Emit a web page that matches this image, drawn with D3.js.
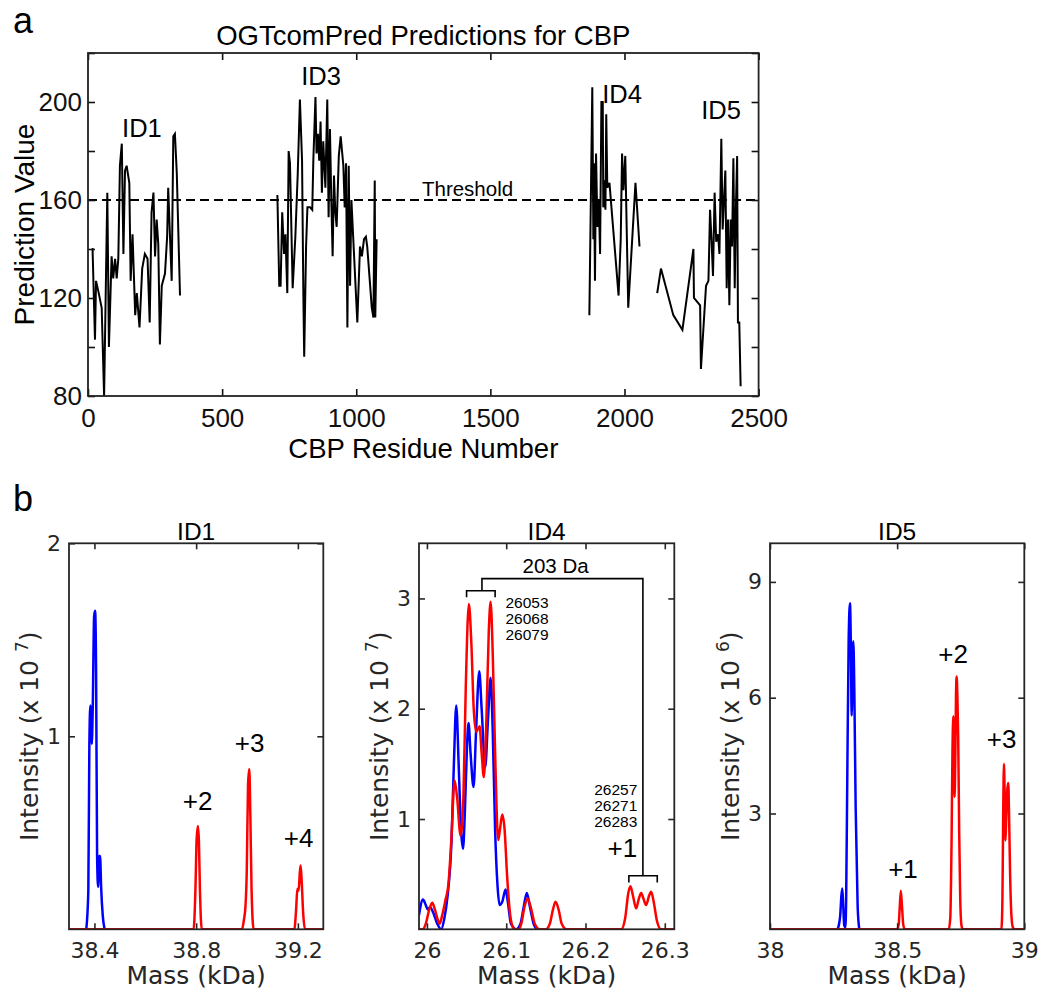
<!DOCTYPE html>
<html>
<head>
<meta charset="utf-8">
<script src="https://cdn.jsdelivr.net/npm/d3@7/dist/d3.min.js"></script>
<style>
  body { margin: 0; background: #fff; }
  svg { display: block; }
</style>
</head>
<body>
<div id="chart"></div>
<script>
// ---------- panel a : OGTcomPred prediction value per residue ----------
let id1Pred = [[14,140],[17,140],[26,103],[30,127],[40,122],[51,116],[60,80],[72,163],[78,100],[88,137],
  [94,128],[101,136],[107,128],[113,136],[119,174],[126,183],[132,138],[138,172],[144,174],[154,167],
  [159,127],[166,146],[176,113],[182,122],[192,108],[202,132],[212,138],[222,136],[230,110],[237,155],
  [244,163],[250,137],[256,152],[262,142],[268,101],[275,125],[287,130],[295,145],[299,165],[306,144],
  [312,127],[318,186],[324,187],[331,171],[343,121]];
let id3Pred = [[706,162],[713,125],[718,125],[724,155],[731,138],[736,146],[743,122],[748,180],[753,175],
  [763,124],[773,145],[782,171],[790,201],[798,176],[803,120],[806,96],[813,141],[818,157],[828,157],
  [836,156],[840,176],[848,202],[852,179],[857,187],[862,176],[867,192],[872,163],[877,184],[885,165],
  [892,201],[897,153],[902,189],[907,160],[912,137],[917,170],[922,155],[927,149],[935,178],[942,186],
  [947,180],[952,174],[957,157],[962,175],[967,108],[972,174],[977,125],[982,160],[989,144],[1004,110],
  [1014,141],[1021,137],[1029,144],[1036,145],[1041,141],[1058,116],[1064,112],[1069,168],[1071,112],
  [1076,144]];
let id4Pred = [[1869,113],[1874,155],[1880,206],[1884,144],[1886,175],[1890,127],[1894,179],[1899,149],
  [1904,160],[1909,138],[1914,200],[1919,200],[1921,157],[1925,168],[1929,156],[1932,195],[1936,165],
  [1944,167],[1978,121],[1986,144],[1991,179],[1996,164],[2003,178],[2014,116],[2041,167],[2056,141]];
let id5Pred = [[2122,122],[2136,132],[2182,113],[2216,107],[2257,140],[2259,120],[2282,117],[2285,91],
  [2304,125],[2313,127],[2319,156],[2324,145],[2330,129],[2336,163],[2342,143],[2349,146],[2354,138],
  [2361,185],[2366,148],[2371,160],[2376,172],[2381,124],[2386,152],[2391,117],[2396,152],[2401,141],
  [2406,177],[2411,124],[2416,160],[2420,178],[2423,110],[2428,110],[2433,84]];
let threshold = 160;
let topXTicks = [0, 500, 1000, 1500, 2000, 2500];
let topYTicks = [80, 100, 120, 140, 160, 180, 200, 220];
let topYLabels = [80, 120, 160, 200];
let regionNames = ["ID1", "ID3", "ID4", "ID5"];

// ---------- panel b : deconvoluted spectra (mass kDa, intensity) ----------
let id1Blue = [[38.368,0],[38.376,0.2],[38.380,0.95],[38.384,1.16],[38.3875,1.1],[38.3895,0.96],[38.3934,1.15],
  [38.3987,1.62],[38.4026,1.65],[38.4066,1.33],[38.4105,0.38],[38.4145,0.22],[38.4184,0.38],[38.4223,0.38],
  [38.4263,0.22],[38.4328,0.07],[38.440,0]];
let id1Red = [[38.30,0],[38.790,0],[38.797,0.2],[38.802,0.47],[38.807,0.535],[38.811,0.45],[38.815,0.2],
  [38.822,0],[38.980,0],[38.988,0.05],[38.994,0.12],[38.999,0.3],[39.004,0.75],[39.009,0.83],[39.013,0.6],
  [39.018,0.2],[39.026,0],[39.186,0],[39.193,0.1],[39.198,0.21],[39.203,0.2],[39.208,0.3],[39.211,0.33],
  [39.215,0.25],[39.221,0.08],[39.228,0],[39.30,0]];
let id4Blue = [[25.99,0.13],[25.995,0.27],[25.9985,0.22],[26.001,0.18],[26.004,0.2],[26.008,0.15],[26.013,0.05],
  [26.018,0],[26.022,0.1],[26.026,0.3],[26.031,0.8],[26.034,1.5],[26.037,2.03],[26.040,1.5],[26.043,0.9],
  [26.0455,0.73],[26.048,1.1],[26.0505,1.65],[26.0525,1.87],[26.055,1.6],[26.0588,1.29],[26.062,1.8],
  [26.066,2.34],[26.069,2.0],[26.0735,1.47],[26.077,1.9],[26.0803,2.28],[26.083,1.8],[26.086,0.9],
  [26.089,0.4],[26.0916,0.22],[26.095,0.25],[26.0992,0.36],[26.102,0.25],[26.106,0.05],[26.1126,0],
  [26.118,0.05],[26.122,0.2],[26.126,0.33],[26.13,0.2],[26.135,0.04],[26.139,0]];
let id4Red = [[25.99,0],[25.995,0],[25.9985,0.05],[26.003,0.18],[26.0067,0.24],[26.01,0.18],[26.014,0.08],
  [26.016,0.05],[26.019,0.12],[26.0235,0.27],[26.027,0.4],[26.0307,0.8],[26.0349,1.35],[26.038,1.2],
  [26.0424,0.85],[26.046,1.2],[26.049,2.2],[26.0529,2.95],[26.056,2.6],[26.059,2.0],[26.0622,1.79],
  [26.0664,1.84],[26.069,1.6],[26.0718,1.38],[26.075,1.9],[26.078,2.7],[26.0803,2.97],[26.083,2.5],
  [26.086,1.6],[26.0899,0.81],[26.092,0.9],[26.095,1.04],[26.098,0.9],[26.101,0.5],[26.104,0.2],
  [26.1084,0.02],[26.112,0],[26.116,0],[26.119,0.05],[26.123,0.2],[26.127,0.28],[26.131,0.2],[26.136,0.05],
  [26.142,0],[26.15,0],[26.155,0.05],[26.159,0.18],[26.1622,0.25],[26.166,0.18],[26.17,0.05],[26.176,0],
  [26.245,0],[26.25,0.1],[26.254,0.33],[26.2567,0.39],[26.26,0.3],[26.2639,0.19],[26.267,0.27],
  [26.2702,0.33],[26.273,0.28],[26.2765,0.22],[26.28,0.3],[26.2828,0.34],[26.286,0.25],[26.29,0.08],
  [26.2954,0],[26.312,0]];
let id5Blue = [[38.266,0],[38.276,0.35],[38.2805,0.85],[38.2843,1.06],[38.288,0.6],[38.292,0.1],[38.2965,0.05],
  [38.2995,0.8],[38.304,4.0],[38.3093,7.48],[38.3145,8.45],[38.3185,7.05],[38.3211,5.54],[38.325,7.22],
  [38.3277,7.46],[38.3316,6.19],[38.3368,3.17],[38.3447,0.59],[38.3512,0]];
let id5Red = [[38.0,0],[38.500,0],[38.506,0.12],[38.510,0.55],[38.5145,1.0],[38.519,0.6],[38.524,0.12],
  [38.530,0],[38.703,0],[38.709,0.3],[38.714,2.3],[38.7175,4.6],[38.721,5.52],[38.7235,4.2],[38.726,3.43],
  [38.729,4.6],[38.7315,6.1],[38.734,6.55],[38.737,6.0],[38.740,5.0],[38.744,2.5],[38.748,0.8],[38.753,0.1],
  [38.758,0],[38.910,0],[38.914,0.8],[38.917,3.0],[38.920,4.28],[38.923,3.4],[38.926,2.3],[38.929,2.9],
  [38.933,3.6],[38.937,3.79],[38.940,3.0],[38.944,1.5],[38.949,0.4],[38.955,0.05],[38.962,0],[39.0,0]];

let id1XTicks = [38.4, 38.8, 39.2], id1YTicks = [1, 2];
let id4XTicks = [26, 26.1, 26.2, 26.3], id4YTicks = [1, 2, 3];
let id5XTicks = [38, 38.5, 39], id5YTicks = [3, 6, 9];
let id1Tags = ["+2", "+3", "+4"];
let id4Tags = ["+1"];
let id5Tags = ["+1", "+2", "+3"];
let id4MassesA = ["26053", "26068", "26079"];
let id4MassesB = ["26257", "26271", "26283"];
let shiftText = "203 Da";

// ---------- drawing ----------
const ARIAL = "'Liberation Sans', Arial, Helvetica, sans-serif";
const DEJAVU = "'DejaVu Sans', Verdana, sans-serif";
const AXIS = "#262626";

let svg = d3.select("#chart")
  .append("svg")
  .attr("width", 1042)
  .attr("height", 999)
  .style("background", "#fff");

function txt(parent, x, y, s, size, opts) {
  opts = opts || {};
  return parent.append("text")
    .attr("x", x).attr("y", y)
    .attr("text-anchor", opts.anchor || "middle")
    .attr("fill", opts.fill || "#000")
    .style("font-family", opts.family || ARIAL)
    .style("font-size", size + "px")
    .text(s);
}

function styleAxis(g, family, size, color) {
  g.select(".domain").remove();
  g.attr("font-family", family).attr("font-size", size).attr("color", color);
  g.selectAll(".tick line").attr("stroke-width", 1.6);
}

// panel letters
txt(svg, 13, 33, "a", 36, {anchor: "start"});
txt(svg, 13, 511, "b", 36, {anchor: "start"});

// ----- top panel
let dimA = {left: 88, right: 758.6, top: 53, bottom: 396};
let x = d3.scaleLinear().domain([0, 2500]).range([dimA.left, dimA.right]);
let y = d3.scaleLinear().domain([80, 220]).range([dimA.bottom, dimA.top]);
let gA = svg.append("g");

gA.append("line")
  .attr("x1", x(0)).attr("x2", x(2500))
  .attr("y1", y(threshold)).attr("y2", y(threshold))
  .attr("stroke", "#000").attr("stroke-width", 2)
  .attr("stroke-dasharray", "9,5");

let predLine = d3.line().x(d => x(d[0])).y(d => y(d[1]));
[id1Pred, id3Pred, id4Pred, id5Pred].forEach(seg => {
  gA.append("path")
    .attr("d", predLine(seg))
    .attr("fill", "none")
    .attr("stroke", "#000")
    .attr("stroke-width", 2);
});

// axes, ticks pointing inward on all four sides
let axB = gA.append("g").attr("transform", "translate(0," + dimA.bottom + ")")
  .call(d3.axisBottom(x).tickValues(topXTicks).tickSize(-7).tickPadding(13).tickFormat(d3.format("d")));
let axT = gA.append("g").attr("transform", "translate(0," + dimA.top + ")")
  .call(d3.axisTop(x).tickValues(topXTicks).tickSize(-7).tickFormat(""));
let axL = gA.append("g").attr("transform", "translate(" + dimA.left + ",0)")
  .call(d3.axisLeft(y).tickValues(topYTicks).tickSize(-7).tickPadding(6)
    .tickFormat(d => topYLabels.includes(d) ? d : ""));
let axR = gA.append("g").attr("transform", "translate(" + dimA.right + ",0)")
  .call(d3.axisRight(y).tickValues(topYTicks).tickSize(-7).tickFormat(""));
[axB, axT, axL, axR].forEach(g => styleAxis(g, ARIAL, 26, "#111"));

gA.append("rect")
  .attr("x", dimA.left).attr("y", dimA.top)
  .attr("width", dimA.right - dimA.left).attr("height", dimA.bottom - dimA.top)
  .attr("fill", "none").attr("stroke", "#222").attr("stroke-width", 1.8);

txt(gA, (dimA.left + dimA.right) / 2, 45, "OGTcomPred Predictions for CBP", 27.5);
txt(gA, (dimA.left + dimA.right) / 2, 458, "CBP Residue Number", 27.5);
txt(gA, 0, 0, "Prediction Value", 28)
  .attr("transform", "translate(34," + (dimA.top + dimA.bottom) / 2 + ") rotate(-90)");

// region names, placed in data units
let regionAt = [[201, 185.8], [869, 206.9], [1991, 199.5], [2360, 192.9]];
regionNames.forEach((n, i) => txt(gA, x(regionAt[i][0]), y(regionAt[i][1]), n, 25.5));
txt(gA, x(1415), y(threshold) - 4.5, "Threshold", 20.5);

// ----- bottom panels
let dimB = {top: 543.3, bottom: 929.3};

function spectrumPanel(p) {
  let g = svg.append("g");
  let sx = d3.scaleLinear().domain(p.xDomain).range([p.left, p.right]);
  let sy = d3.scaleLinear().domain(p.yDomain).range([dimB.bottom, dimB.top]);
  let clipId = "clip" + p.title;
  svg.append("clipPath").attr("id", clipId).append("rect")
    .attr("x", p.left).attr("y", dimB.top)
    .attr("width", p.right - p.left).attr("height", dimB.bottom - dimB.top);

  let ln = d3.line().curve(d3.curveMonotoneX).x(d => sx(d[0])).y(d => sy(d[1]));
  g.append("path").attr("d", ln(p.blue)).attr("clip-path", "url(#" + clipId + ")")
    .attr("fill", "none").attr("stroke", "#0000ff").attr("stroke-width", 2.5);
  g.append("path").attr("d", ln(p.red)).attr("clip-path", "url(#" + clipId + ")")
    .attr("fill", "none").attr("stroke", "#ff0000").attr("stroke-width", 2.5);

  let b = g.append("g").attr("transform", "translate(0," + dimB.bottom + ")")
    .call(d3.axisBottom(sx).tickValues(p.xTicks).tickSize(-6).tickPadding(13).tickFormat(d => String(d)));
  let t = g.append("g").attr("transform", "translate(0," + dimB.top + ")")
    .call(d3.axisTop(sx).tickValues(p.xTicks).tickSize(-6).tickFormat(""));
  let l = g.append("g").attr("transform", "translate(" + p.left + ",0)")
    .call(d3.axisLeft(sy).tickValues(p.yTicks).tickSize(-6).tickPadding(8).tickFormat(d => String(d)));
  let r = g.append("g").attr("transform", "translate(" + p.right + ",0)")
    .call(d3.axisRight(sy).tickValues(p.yTicks).tickSize(-6).tickFormat(""));
  [b, t, l, r].forEach(a => styleAxis(a, DEJAVU, 22, AXIS));

  g.append("rect")
    .attr("x", p.left).attr("y", dimB.top)
    .attr("width", p.right - p.left).attr("height", dimB.bottom - dimB.top)
    .attr("fill", "none").attr("stroke", AXIS).attr("stroke-width", 1.8);

  let cx = (p.left + p.right) / 2;
  txt(g, cx, 539.5, p.title, 24.5);
  txt(g, cx, 984, "Mass (kDa)", 25, {family: DEJAVU, fill: AXIS});
  let yl = txt(g, 0, 0, "Intensity (x 10 ", 25, {family: DEJAVU, fill: AXIS})
    .attr("transform", "translate(" + (p.left - 31) + "," + (dimB.top + dimB.bottom) / 2 + ") rotate(-90)");
  yl.append("tspan").attr("dy", -10).style("font-size", "17px").text(p.exp);
  yl.append("tspan").attr("dy", 10).text(")");

  p.tags.forEach((s, i) => txt(g, sx(p.tagAt[i][0]), sy(p.tagAt[i][1]), s, 26));
  return {g: g, sx: sx, sy: sy};
}

spectrumPanel({
  title: "ID1", left: 69, right: 323.3, xDomain: [38.3, 39.3], yDomain: [0, 2],
  xTicks: id1XTicks, yTicks: id1YTicks, exp: "7", blue: id1Blue, red: id1Red,
  tags: id1Tags, tagAt: [[38.806, 0.618], [39.01, 0.92], [39.203, 0.425]]
});

let p4 = spectrumPanel({
  title: "ID4", left: 419, right: 674.3, xDomain: [25.99, 26.312], yDomain: [0, 3.5],
  xTicks: id4XTicks, yTicks: id4YTicks, exp: "7", blue: id4Blue, red: id4Red,
  tags: id4Tags, tagAt: [[26.2465, 0.66]]
});

spectrumPanel({
  title: "ID5", left: 770, right: 1024.3, xDomain: [38, 39], yDomain: [0, 10],
  xTicks: id5XTicks, yTicks: id5YTicks, exp: "6", blue: id5Blue, red: id5Red,
  tags: id5Tags, tagAt: [[38.523, 1.33], [38.72, 6.9], [38.911, 4.69]]
});

// ----- ID4 bracket annotation (203 Da shift)
let sx4 = p4.sx, sy4 = p4.sy;
let bracketPath = d3.path();
// left group bracket
bracketPath.moveTo(sx4(26.050), sy4(3.01));
bracketPath.lineTo(sx4(26.050), sy4(3.07));
bracketPath.lineTo(sx4(26.086), sy4(3.07));
bracketPath.lineTo(sx4(26.086), sy4(3.01));
// connector
bracketPath.moveTo(sx4(26.0694), sy4(3.07));
bracketPath.lineTo(sx4(26.0694), sy4(3.18));
bracketPath.lineTo(sx4(26.2724), sy4(3.18));
bracketPath.lineTo(sx4(26.2724), sy4(0.486));
// right group bracket
bracketPath.moveTo(sx4(26.2547), sy4(0.425));
bracketPath.lineTo(sx4(26.2547), sy4(0.486));
bracketPath.lineTo(sx4(26.2905), sy4(0.486));
bracketPath.lineTo(sx4(26.2905), sy4(0.425));
p4.g.append("path").attr("d", bracketPath.toString())
  .attr("fill", "none").attr("stroke", "#000").attr("stroke-width", 1.6);

txt(p4.g, sx4(26.1623), sy4(3.23), shiftText, 20.5);
id4MassesA.forEach((m, i) => txt(p4.g, sx4(26.0991), sy4(2.917) + i * 16.2, m, 15.5, {anchor: "start"}));
id4MassesB.forEach((m, i) => txt(p4.g, sx4(26.211), sy4(1.219) + i * 16.2, m, 15.5, {anchor: "start"}));
</script>
</body>
</html>
